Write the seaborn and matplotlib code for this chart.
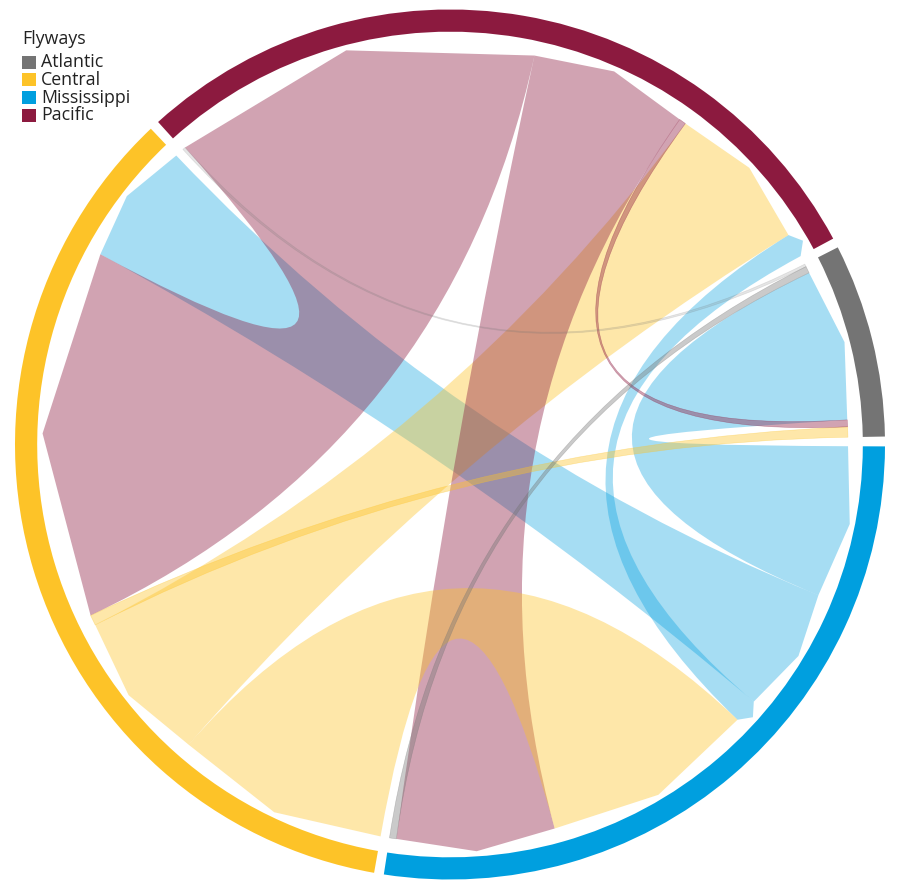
import numpy as np
import matplotlib
matplotlib.use("Agg")
import matplotlib.pyplot as plt
import seaborn as sns
from matplotlib.path import Path
from matplotlib.patches import PathPatch, Wedge, Rectangle

# ---------------- data ----------------
legend_names = ["Atlantic", "Central", "Mississippi", "Pacific"]
legend_colors = ["#747474", "#FDC328", "#009FDF", "#8C1A3F"]

# flows between flyways (source -> target), width in arbitrary units
sources = ["Pacific", "Pacific", "Pacific", "Central", "Central", "Central",
           "Mississippi", "Mississippi", "Mississippi", "Atlantic", "Atlantic"]
targets = ["Central", "Mississippi", "Atlantic", "Pacific", "Mississippi", "Atlantic",
           "Atlantic", "Central", "Pacific", "Mississippi", "Pacific"]
values = [54, 23, 1, 22, 31, 1.5, 22, 18, 3.5, 1, 0.4]

# ---------------- layout ----------------
sector_order = ["Pacific", "Atlantic", "Mississippi", "Central"]  # clockwise
end_order = {
    "Pacific": [("Atlantic", "Pacific"), ("Pacific", "Central"), ("Pacific", "Mississippi"),
                ("Pacific", "Atlantic"), ("Central", "Pacific"), ("Mississippi", "Pacific")],
    "Atlantic": [("Atlantic", "Pacific"), ("Atlantic", "Mississippi"), ("Mississippi", "Atlantic"),
                 ("Pacific", "Atlantic"), ("Central", "Atlantic")],
    "Mississippi": [("Mississippi", "Atlantic"), ("Mississippi", "Central"), ("Mississippi", "Pacific"),
                    ("Central", "Mississippi"), ("Pacific", "Mississippi"), ("Atlantic", "Mississippi")],
    "Central": [("Central", "Mississippi"), ("Central", "Pacific"), ("Central", "Atlantic"),
                ("Pacific", "Central"), ("Mississippi", "Central")],
}
draw_order = [("Mississippi", "Central"), ("Mississippi", "Atlantic"), ("Mississippi", "Pacific"),
              ("Central", "Pacific"), ("Pacific", "Central"), ("Pacific", "Mississippi"),
              ("Central", "Mississippi"), ("Central", "Atlantic"), ("Pacific", "Atlantic"),
              ("Atlantic", "Mississippi"), ("Atlantic", "Pacific")]

color_of = dict(zip(legend_names, legend_colors))
link_val = {(s, t): v for s, t, v in zip(sources, targets, values)}

GAP = 1.3
START = 132.15
R_OUT, R_IN = 1.0, 0.949
R_E, R_M = 0.915, 0.937

total = sum(values) * 2
dpu = (360 - 4 * GAP) / total

sector_span = {}
end_span = {}  # (link, sector) -> (a_start, a_end)
ang = START
for sec in sector_order:
    s0 = ang
    for link in end_order[sec]:
        w = link_val[link] * dpu
        end_span[(link, sec)] = (ang, ang - w)
        ang -= w
    sector_span[sec] = (s0, ang)
    ang -= GAP

sns.set_theme(style="white")
plt.rcParams['font.family'] = ['Open Sans', 'DejaVu Sans']

W, H = 900, 894
fig = plt.figure(figsize=(W / 100, H / 100), dpi=100)
ax = fig.add_axes([0, 0, 1, 1])
cx, cy, scale = 450.0, 444.5, 435.0
ax.set_xlim(-cx / scale, (W - cx) / scale)
ax.set_ylim(-(H - cy) / scale, cy / scale)
ax.set_aspect("auto")
ax.axis("off")


def pt(a, r):
    t = np.deg2rad(a)
    return (r * np.cos(t), r * np.sin(t))


def end_pts(a1, a2):
    if abs(a1 - a2) > 3:
        return [pt(a1, R_E), pt((a1 + a2) / 2, R_M), pt(a2, R_E)]
    return [pt(a1, R_E), pt(a2, R_E)]


# ring
for sec in sector_order:
    a0, a1 = sector_span[sec]
    ax.add_patch(Wedge((0, 0), R_OUT, a1, a0, width=R_OUT - R_IN,
                       facecolor=color_of[sec], edgecolor="none", zorder=5))

# chords
alphas = {"Atlantic": 0.38, "Central": 0.40, "Mississippi": 0.35, "Pacific": 0.40}
for z, link in enumerate(draw_order):
    s, t = link
    A = end_pts(*end_span[(link, s)])
    B = end_pts(*end_span[(link, t)])
    verts = [A[0]] + A[1:] + [(0, 0), B[0]] + B[1:] + [(0, 0), A[0], A[0]]
    codes = ([Path.MOVETO] + [Path.LINETO] * (len(A) - 1) + [Path.CURVE3, Path.CURVE3]
             + [Path.LINETO] * (len(B) - 1) + [Path.CURVE3, Path.CURVE3, Path.CLOSEPOLY])
    v = link_val[link]
    if v < 0.5:
        fa, lw = 0.18, 0.5
    elif v < 2:
        fa, lw = alphas[s], 0.4
    else:
        fa, lw = alphas[s], 0
    ax.add_patch(PathPatch(Path(verts, codes), facecolor=color_of[s], alpha=fa,
                           edgecolor=color_of[s] if lw else "none",
                           linewidth=lw, zorder=1 + z * 0.01))

# legend (figure pixel coords -> fraction)
def fx(x):
    return x / W


def fy(y):
    return 1 - y / H


fig.text(fx(22), fy(39), "Flyways", fontsize=12.8, color="#222222", va="center", ha="left")
for i, (name, col) in enumerate(zip(legend_names, legend_colors)):
    yc = 62 + i * 17.8
    fig.patches.append(Rectangle((fx(22), fy(yc + 6.5)), 14 / W, 13 / H,
                                 transform=fig.transFigure, facecolor=col, edgecolor="none"))
    fig.text(fx(41), fy(yc), name, fontsize=12.8, color="#222222", va="center", ha="left")

fig.savefig("out.png", dpi=100)
